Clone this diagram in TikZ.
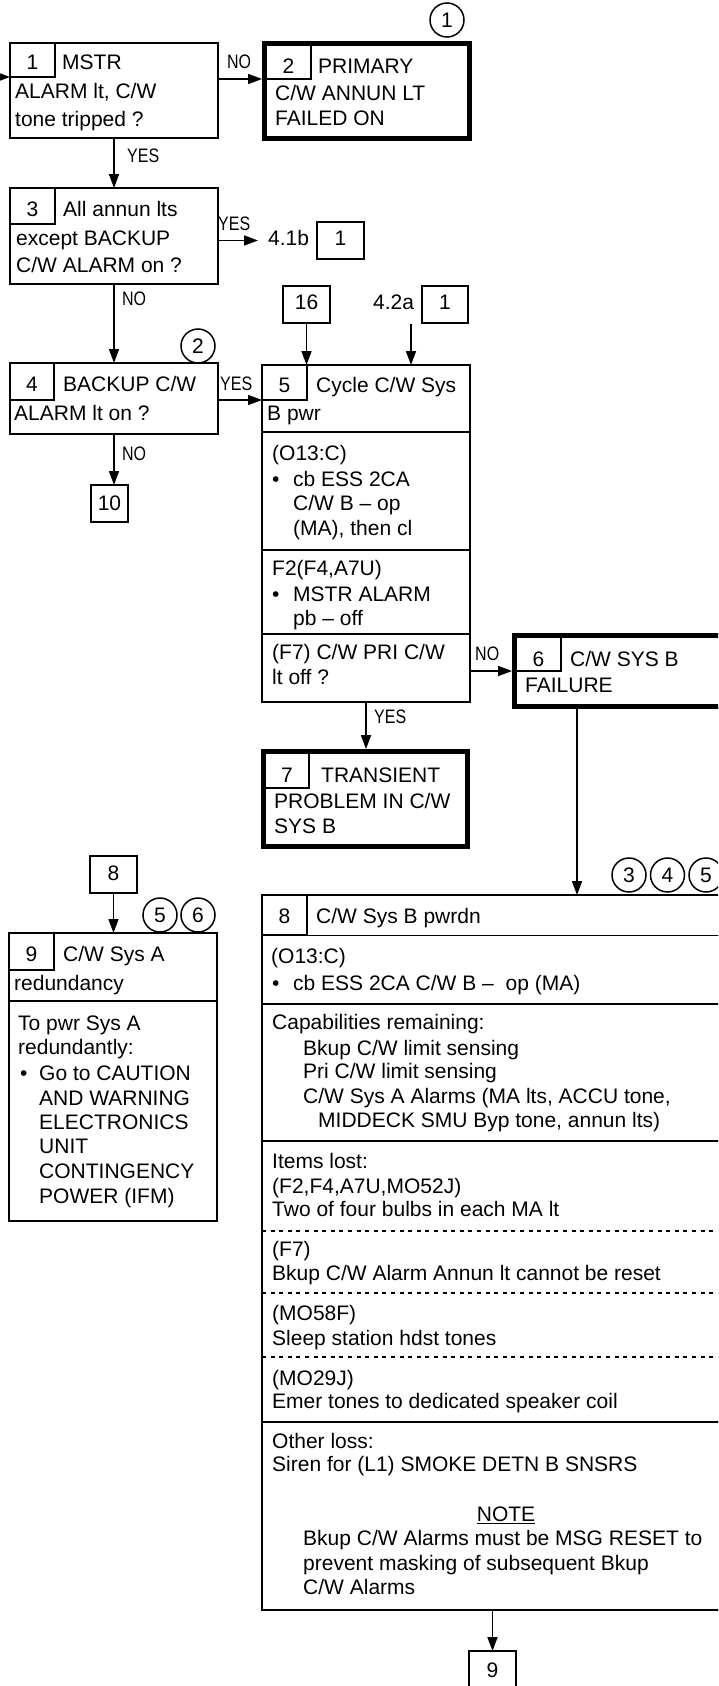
\documentclass[tikz,border=0pt]{standalone}
\usepackage{fontspec}
\setmainfont{Liberation Sans}
\newfontfamily\narrowfont[FakeStretch=0.82]{Liberation Sans}
\usetikzlibrary{arrows.meta}
\newcounter{tn}
\newcommand\tl[3]{\stepcounter{tn}\node[txt] (t\arabic{tn}) at (#1,#2) {#3};}
\newcommand\tc[3]{\stepcounter{tn}\node[txt,anchor=base] (t\arabic{tn}) at (#1,#2) {#3};}
\newcommand\lb[3]{\stepcounter{tn}\node[lbl] (t\arabic{tn}) at (#1,#2) {#3};}
\newcommand\bx[6][]{\node[box,#1,minimum width={#4-#2},minimum height={#5-#3}] (#6) at (#2,#3) {};}
\begin{document}
\begin{tikzpicture}[x=1pt,y=-1pt,
  box/.style={draw,rectangle,line width=1.7pt,inner sep=0pt,outer sep=0pt,anchor=north west},
  thick box/.style={line width=4.8pt},
  ln/.style={line width=1.7pt},
  dl/.style={line width=1.5pt,dash pattern=on 4pt off 4.6pt},
  arr/.style={line width=1.7pt,-{Triangle[length=14pt,width=10pt]}},
  txt/.style={anchor=base west,inner sep=0pt,font=\fontsize{21}{25}\selectfont},
  lbl/.style={anchor=base west,inner sep=0pt,font=\narrowfont\fontsize{19.5}{22}\selectfont},
  circ/.style={circle,draw,line width=1.5pt,minimum size=34pt,inner sep=0pt,font=\fontsize{21}{25}\selectfont}]
\useasboundingbox (0,0) rectangle (718,1686);
\clip (0,0) rectangle (718,1686);
\fill[white] (0,0) rectangle (718,1686);

% boxes
\bx{10}{43}{218}{138}{b1}
\bx{10}{43}{55}{77}{b1n}
\bx[thick box]{264.5}{43.5}{469.5}{138.5}{b2}
\bx{266}{45}{311}{79}{b2n}
\bx{10}{188}{218}{284}{b3}
\bx{10}{188}{55}{224}{b3n}
\bx{317}{222}{364}{259}{r41}
\bx{10}{363}{218}{434}{b4}
\bx{10}{363}{54}{400}{b4n}
\bx{91}{485}{128}{522}{r10}
\bx{283}{286}{330}{323}{r16}
\bx{422}{286}{468}{323}{r42}
\bx{262}{365}{470}{702}{b5}
\bx{262}{365}{307}{400}{b5n}
\bx[thick box]{514.5}{635.5}{730}{706.5}{b6}
\bx{516}{637}{561}{671}{b6n}
\bx[thick box]{263.5}{751.5}{467.5}{846.5}{b7}
\bx{265}{753}{309}{788}{b7n}
\bx{90}{856}{137}{893}{r8}
\bx{9}{933}{217}{1221}{b9}
\bx{9}{933}{54}{970}{b9n}
\bx{262}{895}{730}{1610}{b8}
\bx{262}{895}{307}{935}{b8n}
\bx{469}{1651}{516}{1690}{r9}

% dividers
\draw[ln] (262,432) -- (470,432);
\draw[ln] (262,550) -- (470,550);
\draw[ln] (262,634) -- (470,634);
\draw[ln] (9,1001) -- (217,1001);
\draw[ln] (262,935.5) -- (730,935.5);
\draw[ln] (262,1004) -- (730,1004);
\draw[ln] (262,1141) -- (730,1141);
\draw[dl] (262,1231) -- (730,1231);
\draw[dl] (262,1293) -- (730,1293);
\draw[dl] (262,1357) -- (730,1357);
\draw[ln] (262,1422) -- (730,1422);

% circles
\node[circ] (c1) at (447,20) {1};
\node[circ] (c2) at (198,346) {2};
\node[circ] (c5a) at (160,915) {5};
\node[circ] (c6a) at (198,915) {6};
\node[circ] (c3) at (629,875) {3};
\node[circ] (c4) at (667.5,875) {4};
\node[circ] (c5b) at (706,875) {5};

% texts box 1
\tc{32.5}{70}{1}
\tl{62}{70}{MSTR}
\tl{15}{98.5}{ALARM lt, C/W}
\tl{15}{126.5}{tone tripped ?}
% box 2
\tc{288.5}{74}{2}
\tl{318}{74}{PRIMARY}
\tl{275}{100}{C/W ANNUN LT}
\tl{275}{125}{FAILED ON}
% box 3
\tc{32.5}{216}{3}
\tl{63}{216}{All annun lts}
\tl{16}{245}{except BACKUP}
\tl{16}{272}{C/W ALARM on ?}
\node[txt] (t41b) at (268,245) {4.1b};
\tc{340.5}{245}{1}
% box 4
\tc{32}{391.5}{4}
\tl{63}{391.5}{BACKUP C/W}
\tl{14}{420}{ALARM lt on ?}
\tc{109.5}{510}{10}
% refs above 5
\tc{306.5}{309.5}{16}
\node[txt] (t42a) at (373,309.5) {4.2a};
\tc{445}{309.5}{1}
% box 5
\tc{284.5}{392.5}{5}
\tl{316}{392.5}{Cycle C/W Sys}
\tl{267}{420.5}{B pwr}
\tl{272}{460.5}{(O13:C)}
\tl{272}{486.7}{•}
\tl{293}{486.7}{cb ESS 2CA}
\tl{293}{510.7}{C/W B – op}
\tl{293}{535.5}{(MA), then cl}
\tl{272}{575}{F2(F4,A7U)}
\tl{272}{601.5}{•}
\tl{293}{601.5}{MSTR ALARM}
\tl{293}{625.5}{pb – off}
\tl{272}{659}{(F7) C/W PRI C/W}
\tl{272}{684}{lt off ?}
% box 6
\tc{538.5}{666}{6}
\tl{570}{666}{C/W SYS B}
\tl{525}{692.3}{FAILURE}
% box 7
\tc{287}{782.3}{7}
\tl{321}{782.3}{TRANSIENT}
\tl{274}{808.3}{PROBLEM IN C/W}
\tl{274}{833.3}{SYS B}
% box 9 and ref 8
\tc{113.5}{880}{8}
\tc{31.5}{961.7}{9}
\tl{63}{961.7}{C/W Sys A}
\tl{14}{990}{redundancy}
\tl{18}{1030}{To pwr Sys A}
\tl{18}{1054}{redundantly:}
\tl{20}{1080}{•}
\tl{39}{1080}{Go to CAUTION}
\tl{39}{1105}{AND WARNING}
\tl{39}{1129.5}{ELECTRONICS}
\tl{39}{1153.5}{UNIT}
\tl{39}{1178}{CONTINGENCY}
\tl{39}{1203}{POWER (IFM)}
% box 8
\tc{284.5}{923.3}{8}
\tl{316}{923.3}{C/W Sys B pwrdn}
\tl{271}{963.3}{(O13:C)}
\tl{272}{990}{•}
\tl{293}{990}{cb ESS 2CA C/W B –~ op (MA)}
\tl{272}{1029.3}{Capabilities remaining:}
\tl{303}{1055}{Bkup C/W limit sensing}
\tl{303}{1078.3}{Pri C/W limit sensing}
\tl{303}{1103.3}{C/W Sys A Alarms (MA lts, ACCU tone,}
\tl{318}{1127.7}{MIDDECK SMU Byp tone, annun lts)}
\tl{272}{1168.3}{Items lost:}
\tl{272}{1193.3}{(F2,F4,A7U,MO52J)}
\tl{272}{1216.7}{Two of four bulbs in each MA lt}
\tl{272}{1256.7}{(F7)}
\tl{272}{1280.7}{Bkup C/W Alarm Annun lt cannot be reset}
\tl{272}{1320.7}{(MO58F)}
\tl{272}{1345}{Sleep station hdst tones}
\tl{272}{1385}{(MO29J)}
\tl{272}{1408.3}{Emer tones to dedicated speaker coil}
\tl{272}{1448.3}{Other loss:}
\tl{272}{1471.7}{Siren for (L1) SMOKE DETN B SNSRS}
\tc{506}{1521.7}{\underline{NOTE}}
\tl{303}{1545}{Bkup C/W Alarms must be MSG RESET to}
\tl{303}{1570.7}{prevent masking of subsequent Bkup}
\tl{303}{1594.3}{C/W Alarms}
\tc{492.5}{1677}{9}

% labels
\lb{227}{68}{NO}
\lb{127}{162}{YES}
\lb{218}{230}{YES}
\lb{122}{305}{NO}
\lb{220}{390}{YES}
\lb{122}{460}{NO}
\lb{475}{660}{NO}
\lb{374}{723}{YES}

% connectors
\coordinate (in1) at (0,77);
\draw[arr] (in1) -- (in1 -| b1.west);
\draw[arr,shorten >=2.4pt] (b1.east |- b2n.south) -- (b2.west |- b2n.south);
\draw[arr] (b1.south) -- (b3.north);
\draw[arr,shorten >=10pt] (b3.east |- r41.west) -- (t41b.west |- r41.west);
\draw[arr] (b3.south) -- (b4.north);
\draw[arr] (b4.east |- b5n.south) -- (b5.west |- b5n.south);
\draw[arr] (b4.south) -- (b4.south |- r10.north);
\draw[arr] (r16.south) -- (r16.south |- b5.north);
\coordinate (c42) at (411,324);
\draw[arr] (c42) -- (c42 |- b5.north);
\draw[arr,shorten >=2.4pt] (b5.east |- b6n.south) -- (b6.west |- b6n.south);
\draw[arr,shorten >=2.4pt] (b5.south) -- (b5.south |- b7.north);
\coordinate (x6) at (577,0);
\draw[arr] (b6.south -| x6) -- (b8.north -| x6);
\draw[arr] (r8.south) -- (r8.south |- b9.north);
\draw[arr] (b8.south -| r9.north) -- (r9.north);
\end{tikzpicture}
\end{document}
